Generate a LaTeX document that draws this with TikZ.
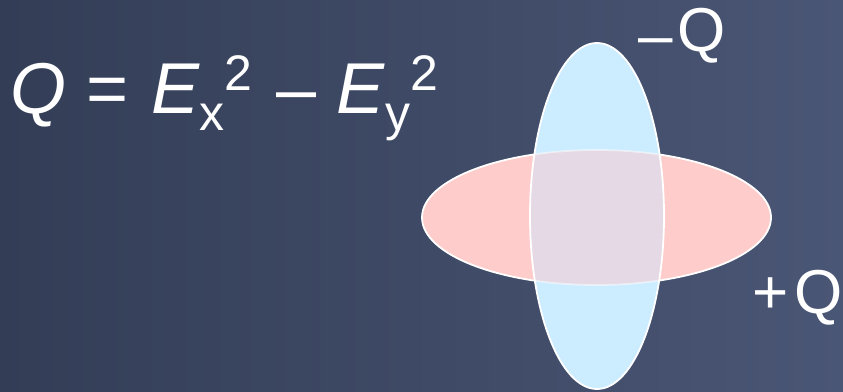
\documentclass[tikz,border=0pt]{standalone}
\usepackage{fontspec}
\setmainfont{Liberation Sans}
\definecolor{bgleft}{RGB}{51,61,86}
\definecolor{bgright}{RGB}{74,86,117}
\definecolor{pinkfill}{RGB}{255,204,204}
\definecolor{bluefill}{RGB}{204,236,255}
\definecolor{overlapfill}{RGB}{228,217,228}
\newcommand{\bigf}{\fontsize{72}{72}\selectfont}
\newcommand{\smallf}{\fontsize{50}{50}\selectfont}
\newcommand{\labf}{\fontsize{62}{62}\selectfont}
\begin{document}
\begin{tikzpicture}[x=1pt,y=-1pt,
  txt/.style={text=white,inner sep=0pt,outer sep=0pt,anchor=base west},
  outline/.style={draw=white,line width=1.8pt}]
\useasboundingbox (0,0) rectangle (843,391);
\shade[left color=bgleft,right color=bgright] (0,0) rectangle (843,391);
% pink horizontal ellipse
\fill[pinkfill] (596.5,217.5) ellipse [x radius=174.5pt, y radius=67.5pt];
\draw[outline] (596.5,217.5) ellipse [x radius=174.5pt, y radius=67.5pt];
% blue vertical ellipse
\fill[bluefill] (597,216) ellipse [x radius=67pt, y radius=173pt];
% overlap
\begin{scope}
  \clip (597,216) ellipse [x radius=67pt, y radius=173pt];
  \fill[overlapfill] (596.5,217.5) ellipse [x radius=174.5pt, y radius=67.5pt];
  \draw[draw=white,draw opacity=0.5,line width=1.8pt] (596.5,217.5) ellipse [x radius=174.5pt, y radius=67.5pt];
\end{scope}
\draw[outline] (597,216) ellipse [x radius=67pt, y radius=173pt];
% texts
\node[txt] (formula) at (10,113) {\bigf\textit{Q} =\hspace{3pt} \textit{E}\raisebox{-17pt}{\smallf x}\raisebox{23pt}{\smallf 2}\hspace{4pt} – \textit{E}\raisebox{-17pt}{\smallf y}\raisebox{23pt}{\smallf 2}};
\node[txt] (minusQ) at (638,51) {\labf\raisebox{-5pt}{–}\kern5pt Q};
\node[txt] (plusQ) at (752,313) {\labf +\kern6pt Q};
\end{tikzpicture}
\end{document}
